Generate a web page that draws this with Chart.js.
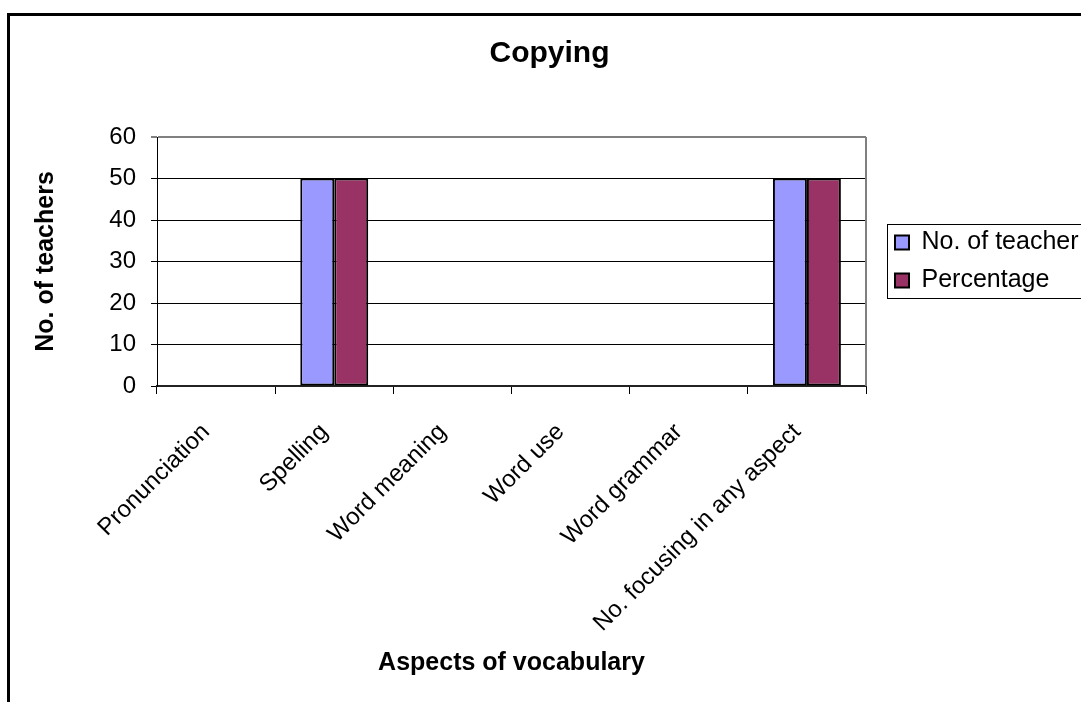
<!DOCTYPE html>
<html>
<head>
<meta charset="utf-8">
<script src="https://cdn.jsdelivr.net/npm/chart.js@4"></script>
<style>
  html, body { margin: 0; padding: 0; background: #fff; overflow: hidden; }
  #wrap { position: relative; width: 1081px; height: 702px; }
  #frame {
    position: absolute; left: 7px; top: 13px; width: 1200px; height: 800px;
    border: 3px solid #000; pointer-events: none;
  }
  canvas { position: absolute; left: 0; top: 0; }
</style>
</head>
<body>
<div id="wrap">
  <canvas id="chart" width="1081" height="702"></canvas>
  <div id="frame"></div>
</div>
<script>
// Aspects of vocabulary checked while copying
const categories = [
  'Pronunciation',
  'Spelling',
  'Word meaning',
  'Word use',
  'Word grammar',
  'No. focusing in any aspect'
];
const teacherCounts = [0, 50, 0, 0, 0, 50];
const percentages = [0, 50, 0, 0, 0, 50];
const yTickValues = [0, 10, 20, 30, 40, 50, 60];

const FONT = "'Liberation Sans', Arial, Helvetica, sans-serif";
Chart.defaults.font.family = FONT;
Chart.defaults.color = '#000';

// Nudges the title and legend boxes and draws the plot frame and legend border
const framePlugin = {
  id: 'framePlugin',
  afterLayout(chart) {
    const lg = chart.legend;
    if (lg) {
      lg.left += 16;
      lg.right = chart.width + 60;
      lg.width = lg.right - lg.left;
    }
    const tb = chart.titleBlock;
    if (tb) { tb.left += 24; tb.right += 24; }
  },
  afterDraw(chart) {
    const ctx = chart.ctx;
    const a = chart.chartArea;
    ctx.save();
    // right edge of the plot area
    ctx.strokeStyle = '#808080';
    ctx.lineWidth = 2;
    ctx.beginPath();
    ctx.moveTo(a.right, a.top);
    ctx.lineTo(a.right, a.bottom);
    ctx.stroke();
    // legend border
    const lg = chart.legend;
    if (lg && lg.legendHitBoxes && lg.legendHitBoxes.length) {
      const hb = lg.legendHitBoxes;
      const first = hb[0];
      const last = hb[hb.length - 1];
      const x0 = Math.round(lg.left + lg.options.labels.padding - 8) + 0.5;
      const y0 = Math.round(first.top - 6) + 0.5;
      const y1 = Math.round(last.top + last.height + 5) + 0.5;
      ctx.strokeStyle = '#000';
      ctx.lineWidth = 1;
      ctx.strokeRect(x0, y0, 400, y1 - y0);
    }
    ctx.restore();
  }
};

new Chart(document.getElementById('chart'), {
  type: 'bar',
  data: {
    labels: categories,
    datasets: [
      {
        label: 'No. of teacher',
        data: teacherCounts,
        backgroundColor: '#9999FF',
        borderColor: '#000',
        borderWidth: 2,
        borderSkipped: false
      },
      {
        label: 'Percentage',
        data: percentages,
        backgroundColor: '#993366',
        borderColor: '#000',
        borderWidth: 2,
        borderSkipped: false
      }
    ]
  },
  options: {
    responsive: false,
    animation: false,
    events: [],
    layout: { padding: { left: 0, top: 0, right: 30, bottom: 0 } },
    datasets: {
      bar: { categoryPercentage: 0.575, barPercentage: 1.0 }
    },
    plugins: {
      title: {
        display: true,
        text: 'Copying',
        color: '#000',
        font: { size: 30, weight: 'bold' },
        padding: { top: 36, bottom: 65 }
      },
      legend: {
        display: true,
        position: 'right',
        fullSize: false,
        align: 'center',
        maxWidth: 185,
        labels: {
          color: '#000',
          font: { size: 25 },
          boxWidth: 14,
          boxHeight: 14,
          padding: 13
        }
      },
      tooltip: { enabled: false }
    },
    scales: {
      x: {
        offset: true,
        grid: {
          offset: true,
          drawOnChartArea: false,
          drawTicks: true,
          tickLength: 8,
          color: '#000',
          lineWidth: 1
        },
        border: { display: true, color: '#222', width: 2 },
        ticks: {
          autoSkip: false,
          minRotation: 45,
          maxRotation: 45,
          padding: 24,
          labelOffset: -10,
          color: '#000',
          font: { size: 24 }
        },
        title: {
          display: true,
          text: 'Aspects of vocabulary',
          color: '#000',
          font: { size: 25, weight: 'bold' },
          padding: { top: 0, bottom: 24 }
        },
        afterFit(scale) { scale.height = 316; }
      },
      y: {
        min: 0,
        max: 60,
        afterBuildTicks(scale) {
          scale.ticks = yTickValues.map(v => ({ value: v }));
        },
        grid: {
          drawTicks: true,
          tickLength: 6,
          color: ctx => (ctx.tick && ctx.tick.value === 60) ? '#808080' : '#000',
          lineWidth: ctx => (ctx.tick && ctx.tick.value === 60) ? 2 : 1
        },
        border: { display: true, color: '#000', width: 1 },
        ticks: {
          padding: 15,
          color: '#000',
          font: { size: 24 }
        },
        title: {
          display: true,
          text: 'No. of teachers',
          color: '#000',
          font: { size: 25, weight: 'bold' },
          padding: { top: 31, bottom: 0 }
        },
        afterFit(scale) { scale.width = 157; }
      }
    }
  },
  plugins: [framePlugin]
});
</script>
</body>
</html>
